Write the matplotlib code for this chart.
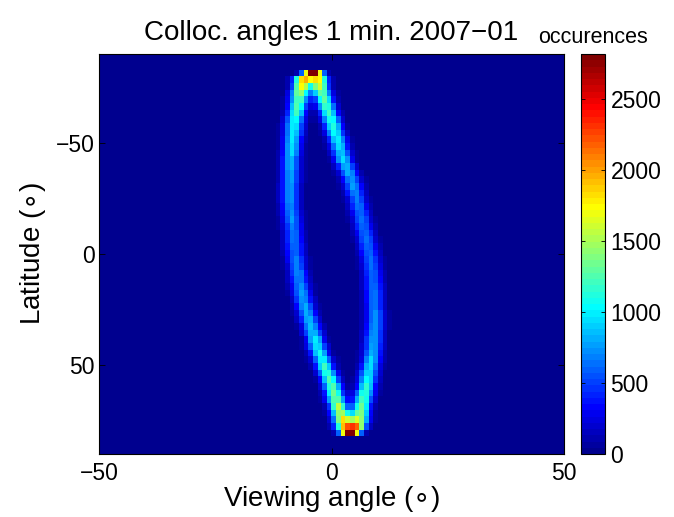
# -*- coding: utf-8 -*-
"""Collocation viewing angle vs latitude histogram, 2007-01."""
import numpy as np
import matplotlib
matplotlib.use("Agg")
import matplotlib.pyplot as plt
from matplotlib.colors import ListedColormap

plt.rcParams['font.family'] = ['Liberation Sans', 'DejaVu Sans']

# histogram grid: 1 degree bins
x_edges = np.arange(-50, 51, 1)
lat_edges = np.arange(-90, 91, 1)

# ridge, one entry per 3-degree latitude band
band_start = np.arange(-83, 80, 3)
left_x = [-4.5, -6.1, -6.4, -6.8, -7.0, -7.3, -7.6, -7.9, -8.1, -8.2,
          -8.4, -8.5, -8.6, -8.8, -8.8, -8.8, -8.8, -8.9, -8.9, -8.9,
          -8.8, -8.7, -8.5, -8.3, -8.2, -8.1, -8.0, -7.9, -7.7, -7.5,
          -7.2, -7.0, -6.7, -6.4, -6.1, -5.7, -5.3, -4.9, -4.4, -4.0,
          -3.5, -3.1, -2.6, -2.0, -1.5, -0.9, -0.3, 0.2, 0.6, 1.0,
          1.5, 2.0, 2.4, 2.9, 3.5]
left_peak = [1600, 2000, 1800, 1550, 1400, 1300, 1250, 1150, 1100, 1050,
             1000, 950, 950, 900, 900, 850, 850, 800, 800, 800,
             750, 750, 750, 700, 700, 700, 700, 650, 700, 700,
             750, 750, 750, 800, 800, 850, 850, 900, 900, 950,
             1000, 1050, 1100, 1150, 1200, 1250, 1300, 1350, 1400, 1450,
             1550, 1650, 1800, 1950, 1600]
right_x = [-3.5, -2.8, -2.5, -2.1, -1.6, -1.1, -0.6, -0.1, 0.4, 0.8,
           1.3, 1.7, 2.1, 2.5, 3.1, 3.7, 4.2, 4.7, 5.1, 5.5,
           5.8, 6.2, 6.5, 6.8, 7.2, 7.5, 7.8, 8.1, 8.4, 8.6,
           8.8, 8.9, 9.0, 9.1, 9.1, 9.2, 9.3, 9.3, 9.2, 9.1,
           9.0, 8.9, 8.8, 8.6, 8.3, 8.0, 7.8, 7.5, 7.1, 6.8,
           6.4, 6.2, 5.9, 5.5, 4.5]
right_peak = [1600, 1800, 1600, 1450, 1350, 1300, 1250, 1200, 1150, 1100,
              1050, 1000, 950, 950, 900, 850, 800, 800, 750, 700,
              700, 650, 650, 650, 650, 650, 650, 650, 650, 650,
              650, 650, 700, 700, 700, 700, 750, 750, 800, 800,
              850, 850, 900, 950, 1000, 1050, 1100, 1150, 1250, 1300,
              1400, 1500, 1700, 1850, 1600]
# relative counts across the ridge (offsets -3..3 bins)
cross_profile = [0.08, 0.3, 0.75, 1.0, 0.75, 0.3, 0.08]

c_max = 2820
cbar_ticks = [0, 500, 1000, 1500, 2000, 2500]


def matlab_jet(m=64):
    n = int(np.ceil(m / 4))
    u = np.concatenate([np.arange(1, n + 1) / n, np.ones(n - 1),
                        np.arange(n, 0, -1) / n])
    g = int(np.ceil(n / 2)) - (m % 4 == 1) + np.arange(1, len(u) + 1)
    r = g + n
    b = g - n
    cols = np.zeros((m, 3))
    for ch, idx in enumerate((r, g, b)):
        ok = (idx >= 1) & (idx <= m)
        cols[idx[ok] - 1, ch] = u[ok]
    return ListedColormap(cols)


def build_grid():
    grid = np.zeros((len(lat_edges) - 1, len(x_edges) - 1))
    offsets = np.arange(len(cross_profile)) - len(cross_profile) // 2
    for j, s in enumerate(band_start):
        rows = np.arange(s + 90, s + 93)
        for centre, peak in ((left_x[j], left_peak[j]),
                             (right_x[j], right_peak[j])):
            for k, w in zip(offsets, cross_profile):
                f = centre + k + 49.5
                i0 = int(np.floor(f))
                frac = f - i0
                grid[rows, i0] += w * (1 - frac) * peak
                grid[rows, i0 + 1] += w * frac * peak
    return grid


H = build_grid()

fig = plt.figure(figsize=(6.74, 5.17), dpi=100)
ax = fig.add_axes([99 / 674, 63 / 517, 465 / 674, 400 / 517])
cax = fig.add_axes([581 / 674, 63 / 517, 24 / 674, 400 / 517])

im = ax.imshow(H, extent=[x_edges[0], x_edges[-1], lat_edges[-1], lat_edges[0]],
               cmap=matlab_jet(64), vmin=0, vmax=c_max, aspect='auto',
               interpolation='nearest')
ax.set_xlim(-50, 50)
ax.set_ylim(90, -90)
ax.set_xticks([-50, 0, 50])
ax.set_yticks([-50, 0, 50])
ax.tick_params(direction='in', top=True, right=True, labelsize=16.5,
               length=4, width=0.6)
ax.tick_params(axis='x', pad=6)
ax.tick_params(axis='y', pad=3)
ax.set_xlabel('Viewing angle ($\\circ$)', fontsize=20, labelpad=-1)
ax.set_ylabel('Latitude ($\\circ$)', fontsize=20, labelpad=6)
ax.set_title('Colloc. angles 1 min. 2007\u221201', fontsize=20, pad=10)
for sp in ax.spines.values():
    sp.set_linewidth(0.8)

cb = fig.colorbar(im, cax=cax, ticks=cbar_ticks)
cb.outline.set_linewidth(0.8)
cax.tick_params(direction='in', left=True, right=True, labelsize=16.5,
                length=3, width=0.6, pad=4)
fig.text(593 / 674, (517 - 43) / 517, 'occurences', fontsize=15.5,
         ha='center', va='baseline')

fig.savefig('out.png', dpi=100)
